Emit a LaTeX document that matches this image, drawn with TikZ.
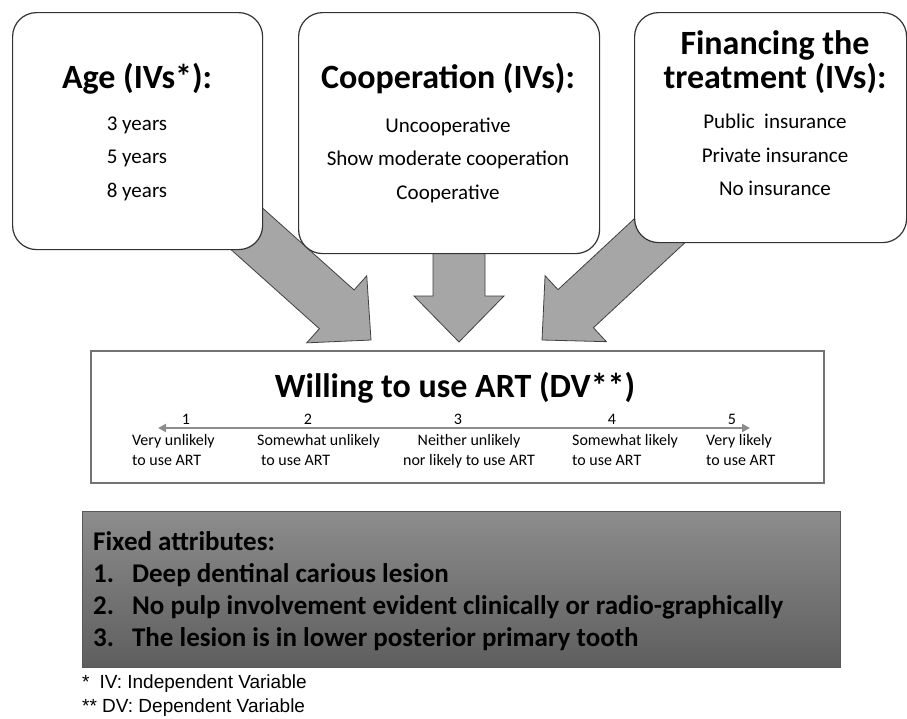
\documentclass[tikz,border=0pt]{standalone}
\usepackage{fontspec}
\setmainfont{Carlito}
\newfontfamily\notefont{Liberation Sans}
\usetikzlibrary{calc,arrows.meta,backgrounds}

\begin{document}
\begin{tikzpicture}[x=1pt, y=-1pt, every node/.style={inner sep=0pt},
  ivbox/.style={draw=black!80, line width=1.2pt, fill=white, rounded corners=24pt, anchor=north west},
  head/.style={font=\fontsize{34}{40}\selectfont\bfseries, anchor=base},
  item/.style={font=\fontsize{21}{25}\selectfont, anchor=base},
  bigarrow/.style={fill=black!35, draw=black!75, line width=0.8pt},
  small/.style={font=\fontsize{16}{20}\selectfont, anchor=north west, align=left},
  fixed/.style={font=\fontsize{27}{32}\selectfont\bfseries, anchor=base west},
  note/.style={font=\notefont\fontsize{19}{22}\selectfont, anchor=base west}]
  \useasboundingbox (0,0) rectangle (907,718);

  % Independent variables
  \node[ivbox, minimum width=250pt, minimum height=237pt] (age) at (12,12) {};
  \node[head] (agetitle) at (137,88) {Age (IVs*):};
  \node[item] (age3) at (137,130) {3 years};
  \node[item] (age5) at (137,163) {5 years};
  \node[item] (age8) at (137,197) {8 years};

  \node[ivbox, minimum width=301pt, minimum height=241pt] (coop) at (298,12) {};
  \node[head] (cooptitle) at (448,88) {Cooperation (IVs):};
  \node[item] (coopa) at (448,132) {Uncooperative};
  \node[item] (coopb) at (448,165) {Show moderate cooperation};
  \node[item] (coopc) at (448,199) {Cooperative};

  \node[ivbox, minimum width=272pt, minimum height=230pt] (fin) at (634,12) {};
  \node[head] (fintitlea) at (775,54) {Financing the};
  \node[head] (fintitleb) at (775,88) {treatment (IVs):};
  \node[item] (fina) at (775,128) {Public\ \ insurance};
  \node[item] (finb) at (775,162) {Private insurance};
  \node[item] (finc) at (775,195) {No insurance};

  % Dependent variable
  \node[draw=black!55, line width=1.5pt, anchor=north west, minimum width=733pt, minimum height=132pt] (dv) at (90,350) {};
  \node[head] (dvtitle) at (455,397) {Willing to use ART (DV**)};
  \coordinate (lo) at (158,428);
  \coordinate (hi) at (750,428);
  \draw[black!45, line width=2pt, {Triangle[length=8pt,width=8pt]}-{Triangle[length=8pt,width=8pt]}] (lo) -- (hi);
  \foreach \n/\x in {1/186,2/308,3/458,4/612,5/732}
    \node[font=\fontsize{16}{20}\selectfont, anchor=base] (num\n) at (\x,424) {\n};
  \node[small] (vu) at (132,434) {Very unlikely\\to use ART};
  \node[small] (su) at (257,434) {Somewhat unlikely\\\hspace{4pt}to use ART};
  \node[small, anchor=north, align=center] (ne) at (469,434) {Neither unlikely\\nor likely to use ART};
  \node[small] (sl) at (572,434) {Somewhat likely\\to use ART};
  \node[small] (vl) at (706,434) {Very likely\\to use ART};

  % Fixed attributes
  \node[draw=black!65, line width=1pt, top color=black!45, bottom color=black!63, anchor=north west, minimum width=758pt, minimum height=156pt] (fix) at (82,511) {};
  \node[fixed] (fixtitle) at (93,550) {Fixed attributes:};
  \node[fixed] (fixa) at (93,582) {1.\hspace{18pt}Deep dentinal carious lesion};
  \node[fixed] (fixb) at (93,614) {2.\hspace{18pt}No pulp involvement evident clinically or radio-graphically};
  \node[fixed] (fixc) at (93,646) {3.\hspace{18pt}The lesion is in lower posterior primary tooth};

  % Footnotes
  \node[note] (iv) at (82,688) {*\hspace{10pt}IV: Independent Variable};
  \node[note] (dvnote) at (82,712) {** DV: Dependent Variable};

  % Block arrows
  \coordinate (tipa) at (371,340);
  \coordinate (tipb) at (459,342);
  \coordinate (tipc) at (542,340);
  \coordinate (coopsrc) at (tipb |- coop.center);
  \begin{scope}[on background layer]
    \foreach \src/\tip in {age.center/tipa, coopsrc/tipb, fin.center/tipc}{
      \coordinate (base) at ($(\tip)!46pt!(\src)$);
      \filldraw[bigarrow] ($(\src)!26pt!90:(\tip)$) -- ($(base)!26pt!90:(\tip)$) -- ($(base)!45pt!90:(\tip)$) -- (\tip)
        -- ($(base)!45pt!-90:(\tip)$) -- ($(base)!26pt!-90:(\tip)$) -- ($(\src)!26pt!-90:(\tip)$) -- cycle;
    }
  \end{scope}
\end{tikzpicture}
\end{document}
